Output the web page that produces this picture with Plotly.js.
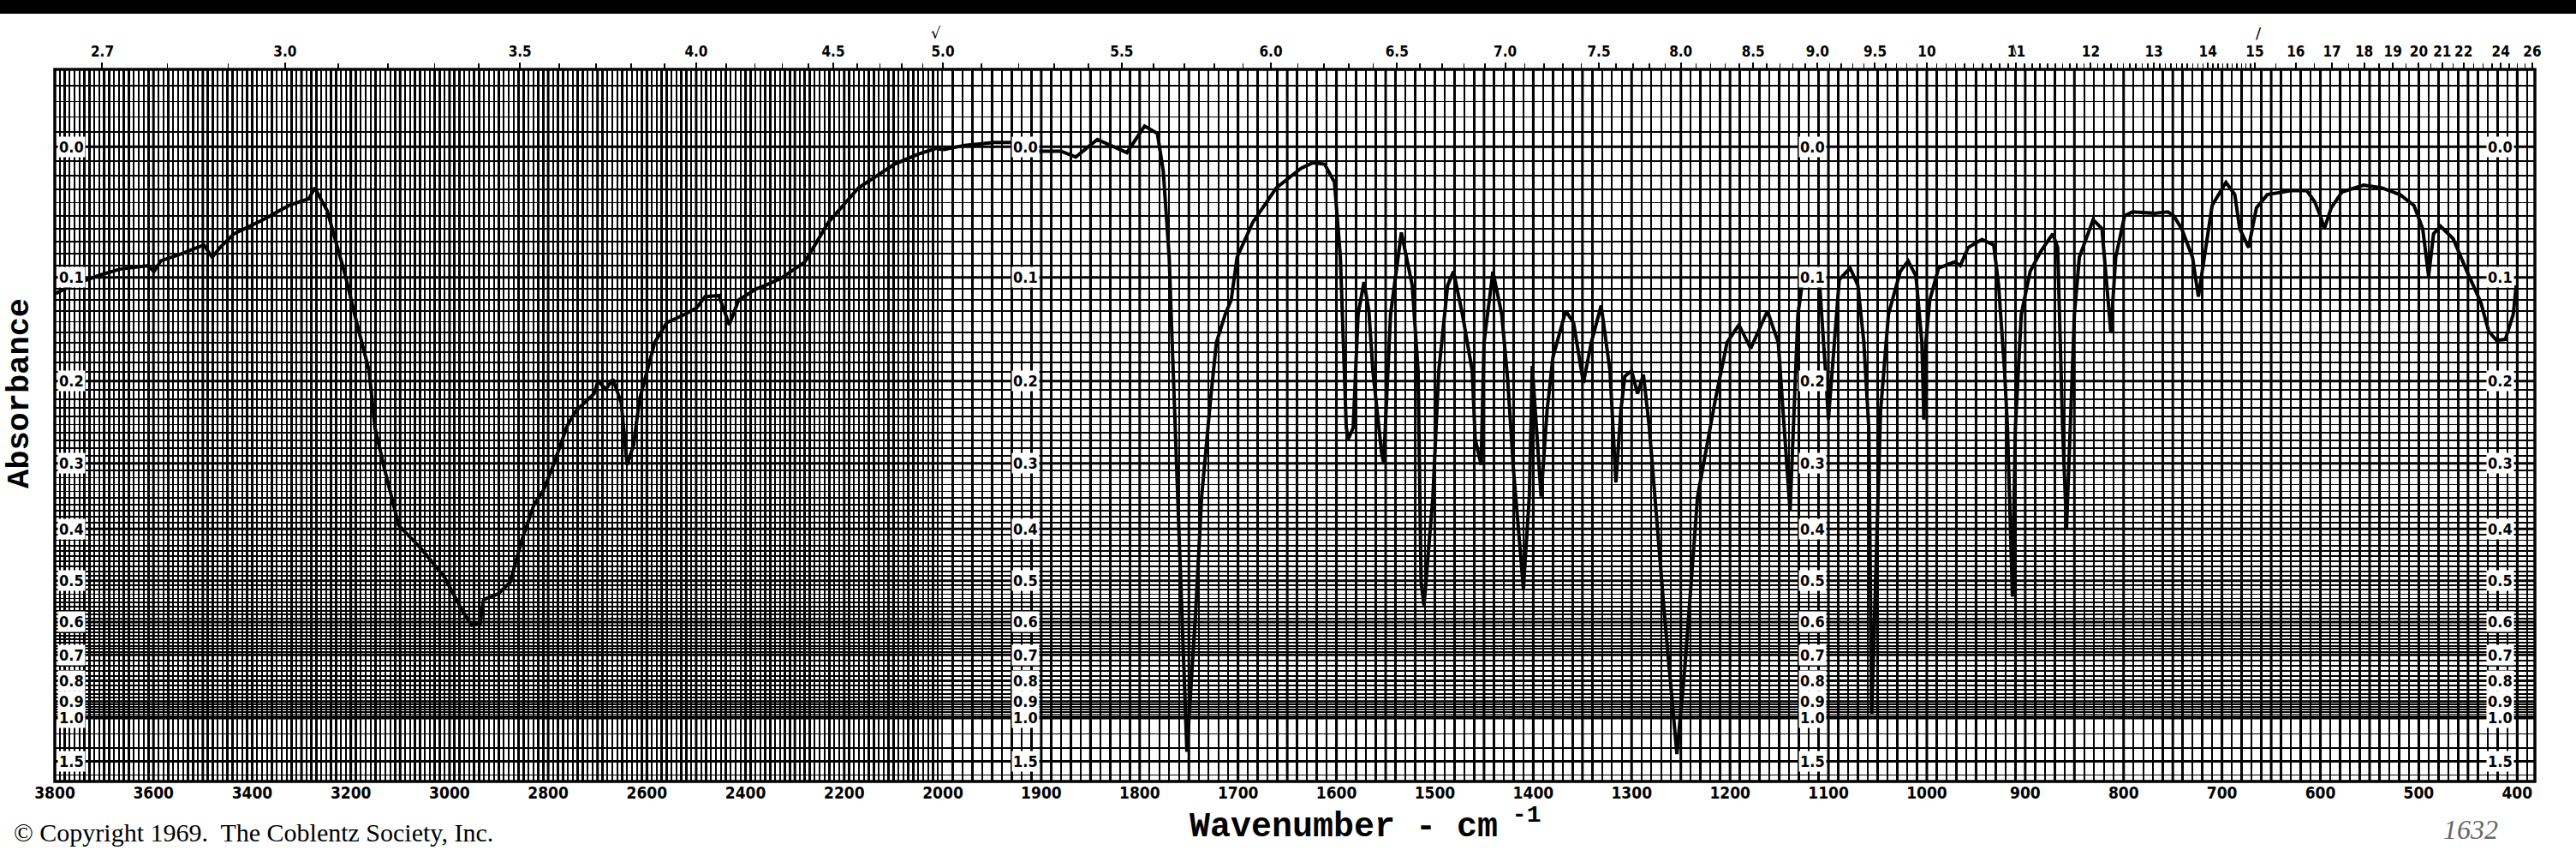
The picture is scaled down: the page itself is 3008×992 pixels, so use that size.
<!DOCTYPE html>
<html>
<head>
<meta charset="utf-8">
<script src="https://cdn.plot.ly/plotly-3.0.1.min.js"></script>
<style>html,body{margin:0;padding:0;background:#fff;}#chart{width:3008px;height:992px;}</style>
</head>
<body>
<div id="chart"></div>
<script>
// ---------------- DATA ----------------
// Left section: 3800 - 2000 cm-1 (compressed scale)
const leftWavenumber = [3798,3760,3708,3668,3611,3599,3585,3542,3498,3481,3465,3437,3378,3325,3285,3273,3248,3229,3212,3188,3163,3151,3132,3103,3059,3011,2974,2955,2938,2931,2901,2877,2853,2829,2810,2792,2761,2744,2707,2699,2683,2669,2652,2640,2627,2615,2584,2560,2523,2499,2482,2454,2433,2414,2378,2360,2329,2280,2232,2171,2098,2050,2013,2000];
const leftAbsorbance = [0.114,0.106,0.098,0.093,0.090,0.095,0.086,0.080,0.073,0.083,0.075,0.064,0.053,0.042,0.037,0.029,0.046,0.071,0.097,0.141,0.189,0.254,0.307,0.394,0.434,0.491,0.570,0.609,0.604,0.543,0.529,0.503,0.419,0.361,0.339,0.307,0.251,0.234,0.214,0.200,0.209,0.198,0.224,0.302,0.276,0.221,0.160,0.141,0.133,0.127,0.117,0.116,0.143,0.120,0.110,0.107,0.101,0.087,0.055,0.029,0.012,0.005,0.001,0.002];

// Right section: 2000 - 400 cm-1 (expanded scale)
const rightWavenumber = [2000,1978,1948,1926,1917,1905,1880,1865,1843,1813,1795,1782,1776,1770,1768,1764,1758,1752,1743,1737,1728,1722,1713,1707,1701,1685,1661,1636,1624,1612,1602,1596,1590,1588,1583,1578,1572,1567,1563,1554,1552,1545,1534,1523,1517,1514,1511,1502,1496,1487,1481,1472,1462,1459,1453,1450,1441,1432,1426,1420,1410,1404,1401,1398,1392,1386,1380,1367,1359,1349,1341,1331,1322,1316,1311,1307,1300,1294,1288,1282,1267,1254,1246,1233,1215,1203,1191,1179,1162,1151,1145,1139,1131,1126,1120,1109,1103,1100,1089,1078,1070,1064,1059,1056,1047,1039,1027,1019,1011,1005,1003,1001,997,988,972,966,958,944,932,927,921,918,913,910,904,895,884,872,867,865,862,858,854,850,845,831,822,817,813,808,799,791,769,755,749,741,730,724,718,710,696,687,682,673,665,654,629,614,606,600,596,589,578,556,538,519,505,496,490,485,478,465,451,437,429,421,412,404,401];
const rightAbsorbance = [0.002,-0.001,-0.003,-0.003,0.000,0.003,0.003,0.007,-0.005,0.004,-0.014,-0.009,0.017,0.083,0.133,0.254,0.541,1.330,0.570,0.348,0.221,0.160,0.133,0.120,0.083,0.055,0.029,0.015,0.011,0.012,0.025,0.083,0.254,0.268,0.254,0.133,0.104,0.130,0.189,0.287,0.299,0.133,0.063,0.107,0.189,0.503,0.557,0.348,0.189,0.107,0.095,0.133,0.189,0.268,0.302,0.160,0.095,0.133,0.198,0.310,0.517,0.348,0.184,0.234,0.348,0.234,0.175,0.130,0.141,0.202,0.160,0.125,0.189,0.327,0.234,0.195,0.189,0.214,0.193,0.254,0.570,1.366,0.750,0.348,0.221,0.160,0.143,0.166,0.130,0.160,0.254,0.371,0.133,0.102,0.095,0.105,0.189,0.244,0.102,0.092,0.107,0.160,0.254,0.971,0.234,0.133,0.095,0.086,0.099,0.160,0.244,0.160,0.120,0.092,0.087,0.090,0.075,0.0685,0.073,0.107,0.189,0.254,0.536,0.254,0.133,0.095,0.078,0.064,0.075,0.133,0.254,0.399,0.254,0.133,0.083,0.053,0.060,0.107,0.150,0.083,0.050,0.047,0.048,0.047,0.050,0.060,0.083,0.117,0.083,0.042,0.025,0.034,0.060,0.075,0.044,0.034,0.031,0.031,0.039,0.050,0.060,0.044,0.032,0.027,0.029,0.034,0.042,0.060,0.099,0.064,0.058,0.068,0.095,0.122,0.149,0.158,0.157,0.133,0.107];

// Tick labels
const bottomLeftTicks = [3800,3600,3400,3200,3000,2800,2600,2400,2200,2000];
const bottomRightTicks = [1900,1800,1700,1600,1500,1400,1300,1200,1100,1000,900,800,700,600,500,400];
const micronLeftLabels = ['2.7','3.0','3.5','4.0','4.5','5.0'];
const micronRightLabels = ['5.5','6.0','6.5','7.0','7.5','8.0','8.5','9.0','9.5','10','11','12','13','14','15','16','17','18','19','20','21','22','24','26'];
const absorbanceLabels = ['0.0','0.1','0.2','0.3','0.4','0.5','0.6','0.7','0.8','0.9','1.0','1.5'];

// ---------------- helpers ----------------
const toT = a => Math.pow(10, -a);           // absorbance -> transmittance (linear chart-paper axis)
const W = 3008, H = 992;
const M = {l:64, r:48, t:81, b:80};
const PW = W - M.l - M.r, PH = H - M.t - M.b;
const px = x => (x - M.l) / PW;
const py = y => (H - M.b - y) / PH;
const split = 1037 / PW;
const LEFT_RANGE = [3800, 2000], RIGHT_RANGE = [2000, 382];
const INK = '#000';
const GRID = '#000';
const numFont = {family:"'DejaVu Sans Condensed','DejaVu Sans',sans-serif", size:19, color:'#000', weight:700};

// horizontal chart-paper lines (absorbance steps)
const gridA = [];
for (let i = -5; i <= 70; i++) gridA.push(i / 100);
for (let i = 72; i <= 88; i += 2) gridA.push(i / 100);
for (let i = 0; i < 6; i++) gridA.push(0.915 + i * 0.015);
gridA.push(1.125, 1.275, 2.0);
const gridT = gridA.map(toT);

// micron tick positions
const micronToWn = s => 10000 / parseFloat(s);
const minL = [], minR = [];
for (let i = 27; i <= 50; i++) minL.push(10000 / (i / 10));
for (let i = 51; i <= 150; i++) minR.push(10000 / (i / 10));
for (let i = 31; i <= 52; i++) minR.push(10000 / (i / 2));

// ---------------- traces ----------------
const lineStyle = {color:'#000', width:4, shape:'linear'};
const data = [
  {x:leftWavenumber, y:leftAbsorbance.map(toT), xaxis:'x', yaxis:'y', mode:'lines', line:lineStyle, hoverinfo:'skip'},
  {x:rightWavenumber, y:rightAbsorbance.map(toT), xaxis:'x2', yaxis:'y', mode:'lines', line:lineStyle, hoverinfo:'skip'}
];
['x3','x4','x5','x6','x7','x8'].forEach(a => data.push({x:[], y:[], xaxis:a, yaxis:'y', mode:'lines', hoverinfo:'skip'}));

// ---------------- shapes ----------------
const shapes = [];
shapes.push({type:'rect', xref:'paper', yref:'paper', x0:px(-5), x1:px(W+5), y0:py(16), y1:py(-5), fillcolor:'#000', line:{width:0}, layer:'above'});
for (let v = 3700; v >= 2100; v -= 100) shapes.push({type:'line', xref:'x', yref:'paper', x0:v, x1:v, y0:0, y1:1, line:{color:INK, width:3}, layer:'below'});
for (let v = 1950; v >= 400; v -= 50) shapes.push({type:'line', xref:'x2', yref:'paper', x0:v, x1:v, y0:0, y1:1, line:{color:INK, width:3}, layer:'below'});
absorbanceLabels.forEach(s => {
  const t = toT(parseFloat(s));
  shapes.push({type:'line', xref:'paper', yref:'y', x0:0, x1:1, y0:t, y1:t, line:{color:INK, width:3}, layer:'below'});
});
shapes.push({type:'line', xref:'x', yref:'paper', x0:2000, x1:2000, y0:0, y1:1, line:{color:'#000', width:3.5}, layer:'below'});
shapes.push({type:'rect', xref:'paper', yref:'paper', x0:0, x1:1, y0:0, y1:1, line:{color:'#000', width:3.5}, layer:'above'});

// ---------------- annotations ----------------
const ann = [];
const labelCols = [{xref:'x', x:3795, xanchor:'left'}, {xref:'x2', x:1916, xanchor:'center'}, {xref:'x2', x:1116, xanchor:'center'}, {xref:'x2', x:417, xanchor:'center'}];
labelCols.forEach(c => absorbanceLabels.forEach(s => {
  ann.push({xref:c.xref, yref:'y', x:c.x, y:toT(parseFloat(s)), xanchor:c.xanchor, yanchor:'middle', text:s, showarrow:false,
            bgcolor:'#fff', borderpad:1, font:{family:numFont.family, size:18, color:'#000', weight:700}});
}));
ann.push({xref:'paper', yref:'paper', x:px(23), y:py(459), text:'Absorbance', textangle:-90, showarrow:false, xanchor:'center', yanchor:'middle',
          font:{family:"'Liberation Mono','DejaVu Sans Mono',monospace", size:37, color:'#000', weight:700}});
ann.push({xref:'paper', yref:'paper', x:px(1594), y:py(962), text:'Wavenumber - cm<sup> -1</sup>', showarrow:false, xanchor:'center', yanchor:'middle',
          font:{family:"'Liberation Mono','DejaVu Sans Mono',monospace", size:40, color:'#000', weight:700}});
ann.push({xref:'paper', yref:'paper', x:px(14), y:py(971), text:'© Copyright 1969.  The Coblentz Society, Inc.', showarrow:false, xanchor:'left', yanchor:'middle',
          font:{family:"'Liberation Serif','DejaVu Serif',serif", size:30, color:'#000'}});
ann.push({xref:'paper', yref:'paper', x:px(2885), y:py(968), text:'<i>1632</i>', showarrow:false, xanchor:'center', yanchor:'middle',
          font:{family:"'Liberation Serif',serif", size:32, color:'#666'}});
ann.push({xref:'paper', yref:'paper', x:px(1093), y:py(26), text:'√', showarrow:false, font:{family:"'DejaVu Sans',sans-serif", size:18, color:'#000'}});
ann.push({xref:'paper', yref:'paper', x:px(2643), y:py(26), text:'/', showarrow:false, font:{family:"'DejaVu Sans',sans-serif", size:18, color:'#000'}});
ann.push({xref:'paper', yref:'paper', x:px(2357), y:py(47), text:'\\', showarrow:false, font:{family:"'DejaVu Sans',sans-serif", size:14, color:'#000'}});

// ---------------- layout ----------------
const gridAxis = {tickmode:'linear', tick0:0, dtick:10, showgrid:true, gridcolor:GRID, gridwidth:2.4, showticklabels:false, ticks:'', zeroline:false, showline:false, fixedrange:true};
const overlay = (base, range, side) => ({overlaying:base, anchor:'y', side:side, range:range, showgrid:false, zeroline:false, showline:false, fixedrange:true});
const topFont = Object.assign({}, numFont, {size:17});
const layout = {
  width:W, height:H, margin:M, paper_bgcolor:'#fff', plot_bgcolor:'#fff', showlegend:false,
  xaxis: Object.assign({}, gridAxis, {domain:[0, split], range:LEFT_RANGE, anchor:'y'}),
  xaxis2: Object.assign({}, gridAxis, {domain:[split, 1], range:RIGHT_RANGE, anchor:'y'}),
  xaxis3: Object.assign(overlay('x', LEFT_RANGE, 'bottom'), {tickmode:'array', tickvals:bottomLeftTicks, ticktext:bottomLeftTicks.map(String), ticks:'', tickfont:numFont}),
  xaxis4: Object.assign(overlay('x2', RIGHT_RANGE, 'bottom'), {tickmode:'array', tickvals:bottomRightTicks, ticktext:bottomRightTicks.map(String), ticks:'', tickfont:numFont}),
  xaxis5: Object.assign(overlay('x', LEFT_RANGE, 'top'), {tickmode:'array', tickvals:micronLeftLabels.map(micronToWn), ticktext:micronLeftLabels,
           ticks:'outside', ticklen:7, tickwidth:2, tickcolor:'#000', tickfont:topFont}),
  xaxis6: Object.assign(overlay('x2', RIGHT_RANGE, 'top'), {tickmode:'array', tickvals:micronRightLabels.map(micronToWn), ticktext:micronRightLabels,
           ticks:'outside', ticklen:7, tickwidth:2, tickcolor:'#000', tickfont:topFont}),
  xaxis7: Object.assign(overlay('x', LEFT_RANGE, 'top'), {tickmode:'array', tickvals:minL, showticklabels:false, ticks:'outside', ticklen:6, tickwidth:1.5, tickcolor:'#000'}),
  xaxis8: Object.assign(overlay('x2', RIGHT_RANGE, 'top'), {tickmode:'array', tickvals:minR, showticklabels:false, ticks:'outside', ticklen:6, tickwidth:1.5, tickcolor:'#000'}),
  yaxis: {domain:[0,1], range:[0, toT(-0.05)], tickmode:'array', tickvals:gridT, showgrid:true, gridcolor:GRID, gridwidth:1.8,
          showticklabels:false, ticks:'', zeroline:false, showline:false, fixedrange:true},
  shapes: shapes,
  annotations: ann
};

Plotly.newPlot('chart', data, layout, {staticPlot:true, displayModeBar:false});
</script>
</body>
</html>
